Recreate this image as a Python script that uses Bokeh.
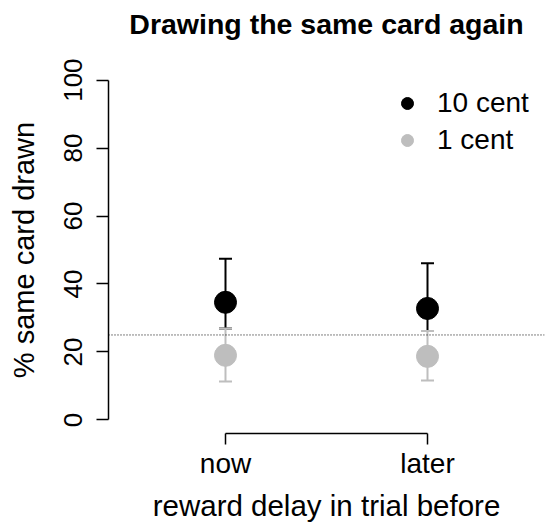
from bokeh.plotting import figure
from bokeh.models import (ColumnDataSource, Whisker, TeeHead, Span, Legend, LegendItem,
                          LinearAxis, FixedTicker, Range1d)
from bokeh.embed import file_html
from bokeh.resources import INLINE

# ---- data ----
title_text = "Drawing the same card again"
conditions = ["now", "later"]
cond_x = [1, 2]
mean_10 = [34.6, 32.8]
upper_10 = [47.4, 46.1]
lower_10 = [26.9, 26.2]
mean_1 = [19.0, 18.7]
upper_1 = [26.9, 26.2]
lower_1 = [11.3, 11.6]
chance_level = 25
y_ticks = [0, 20, 40, 60, 80, 100]

FONT = "Liberation Sans"
BLACK = "#000000"
GREY = "#BEBEBE"

W, H = 545, 524
LEFT, RIGHT, TOP, BOTTOM = 108, 1, 66, 91

p = figure(width=W, height=H, output_backend="svg", toolbar_location=None,
           x_range=Range1d(0.4208, 2.5792), y_range=Range1d(-4, 104),
           x_axis_location=None, y_axis_location=None,
           min_border_left=LEFT, min_border_right=RIGHT,
           min_border_top=TOP, min_border_bottom=BOTTOM)
p.outline_line_color = None
p.xgrid.visible = False
p.ygrid.visible = False
p.background_fill_color = "white"
p.border_fill_color = "white"

p.title.text = title_text
p.title.text_font = FONT
p.title.text_font_size = "28.5px"
p.title.text_font_style = "bold"
p.title.text_color = "black"
p.title.align = "center"
p.title.vertical_align = "bottom"
p.title.standoff = 0
p.title.padding = dict(left=0, right=0, top=0, bottom=27)

# axes
yaxis = LinearAxis(bounds=(0, 100), ticker=FixedTicker(ticks=y_ticks),
                   axis_label="% same card drawn")
yaxis.major_label_orientation = "vertical"
xaxis = LinearAxis(bounds=(1, 2), ticker=FixedTicker(ticks=cond_x),
                   major_label_overrides={x: c for x, c in zip(cond_x, conditions)},
                   axis_label="reward delay in trial before")
for ax in (xaxis, yaxis):
    ax.axis_line_width = 1.5
    ax.major_tick_line_width = 1.5
    ax.major_tick_in = 0
    ax.minor_tick_line_color = None
    ax.major_label_text_font = FONT
    ax.axis_label_text_font = FONT
    ax.axis_label_text_font_style = "normal"
    ax.major_label_text_color = "black"
    ax.axis_label_text_color = "black"
yaxis.major_label_text_font_size = "26px"
yaxis.axis_label_text_font_size = "29px"
yaxis.major_tick_out = 12
yaxis.major_label_standoff = 14
yaxis.axis_label_standoff = 22
xaxis.major_label_text_font_size = "28px"
xaxis.axis_label_text_font_size = "29.5px"
xaxis.major_tick_out = 11
xaxis.major_label_standoff = 3
xaxis.axis_label_standoff = 7
p.add_layout(yaxis, "left")
p.add_layout(xaxis, "below")

src10 = ColumnDataSource(dict(x=cond_x, m=mean_10, lo=lower_10, hi=upper_10))
src1 = ColumnDataSource(dict(x=cond_x, m=mean_1, lo=lower_1, hi=upper_1))

def add_series(src, color):
    w = Whisker(source=src, base="x", lower="lo", upper="hi", dimension="height",
                line_color=color, line_width=2,
                upper_head=TeeHead(size=13, line_color=color, line_width=2),
                lower_head=TeeHead(size=13, line_color=color, line_width=2),
                level="glyph")
    p.add_layout(w)
    r = p.scatter("x", "m", source=src, size=22, fill_color=color, line_color=color)
    return r

r10 = add_series(src10, BLACK)
r1 = add_series(src1, GREY)

chance = Span(location=chance_level, dimension="width", line_color="black",
              line_width=1, line_dash="1 2")
p.add_layout(chance)

legend = Legend(items=[LegendItem(label="10 cent", renderers=[r10]),
                       LegendItem(label="1 cent", renderers=[r1])],
                location=(284, 277), orientation="vertical")
legend.border_line_color = None
legend.background_fill_alpha = 0
legend.padding = 0
legend.margin = 0
legend.spacing = 5
legend.glyph_width = 30
legend.glyph_height = 30
legend.label_standoff = 15
legend.label_text_font = FONT
legend.label_text_font_size = "28px"
legend.label_text_color = "black"
legend.label_text_baseline = "middle"
p.add_layout(legend)

open("out.html", "w").write(file_html(p, INLINE))
